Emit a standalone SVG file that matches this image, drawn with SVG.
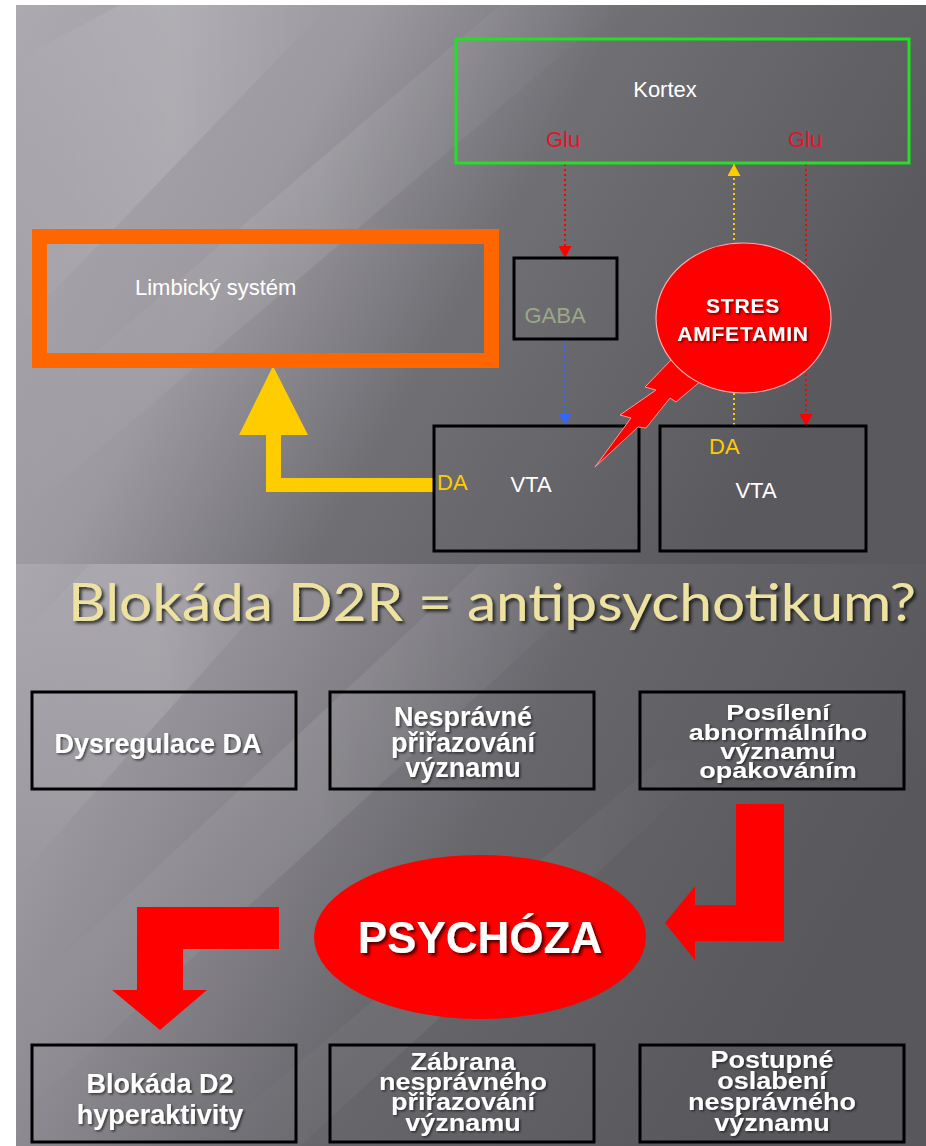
<svg xmlns="http://www.w3.org/2000/svg" width="926" height="1146" viewBox="0 0 926 1146">
<defs>
<linearGradient id="bgTop" x1="0" y1="0" x2="1" y2="0.35">
<stop offset="0" stop-color="#acaab0"/>
<stop offset="0.35" stop-color="#9c9aa0"/>
<stop offset="0.6" stop-color="#706f74"/>
<stop offset="1" stop-color="#5a595e"/>
</linearGradient>
<linearGradient id="bgBot" x1="0" y1="0" x2="1" y2="0.35">
<stop offset="0" stop-color="#aba9af"/>
<stop offset="0.3" stop-color="#8e8c92"/>
<stop offset="0.6" stop-color="#67666b"/>
<stop offset="1" stop-color="#58575c"/>
</linearGradient>
<linearGradient id="streak" x1="0" y1="0" x2="1" y2="0">
<stop offset="0" stop-color="#ffffff" stop-opacity="0"/>
<stop offset="0.5" stop-color="#ffffff" stop-opacity="0.13"/>
<stop offset="1" stop-color="#ffffff" stop-opacity="0"/>
</linearGradient>
<filter id="shadow" x="-10%" y="-30%" width="130%" height="160%">
<feDropShadow dx="1.5" dy="1.5" stdDeviation="1" flood-color="#000" flood-opacity="0.6"/>
</filter>
<filter id="shadowBig" x="-10%" y="-30%" width="130%" height="160%">
<feDropShadow dx="2.5" dy="2.5" stdDeviation="1.5" flood-color="#000" flood-opacity="0.7"/>
</filter>
<marker id="mRed" markerUnits="userSpaceOnUse" markerWidth="14" markerHeight="13" refX="12" refY="6.5" orient="auto">
<path d="M0,0 L12,6.5 L0,13 Z" fill="#ff0000"/>
</marker>
<marker id="mYel" markerUnits="userSpaceOnUse" markerWidth="14" markerHeight="13" refX="12" refY="6.5" orient="auto">
<path d="M0,0 L12,6.5 L0,13 Z" fill="#ffcc00"/>
</marker>
<marker id="mBlue" markerUnits="userSpaceOnUse" markerWidth="14" markerHeight="13" refX="12" refY="6.5" orient="auto">
<path d="M0,0 L12,6.5 L0,13 Z" fill="#3366ff"/>
</marker>
<style>
.lbl{font-family:"Liberation Sans",Arial,sans-serif;font-size:22px;}
.white{fill:#ffffff;}
.box{fill:none;stroke:#000;stroke-width:3;}
.bt{font-family:"Liberation Sans",Arial,sans-serif;font-weight:bold;font-size:27px;fill:#ffffff;text-anchor:middle;}
.dot{fill:none;stroke-width:2;stroke-dasharray:2,3;}
</style>
</defs>

<!-- backgrounds -->
<rect x="0" y="0" width="926" height="1146" fill="#ffffff"/>
<rect x="16" y="5" width="910" height="559" fill="url(#bgTop)"/>
<polygon points="16,60 120,5 330,5 16,330" fill="url(#streak)"/>
<polygon points="16,420 500,5 620,5 16,520" fill="url(#streak)" opacity="0.7"/>
<rect x="16" y="564" width="910" height="582" fill="url(#bgBot)"/>
<polygon points="16,640 90,564 300,564 16,880" fill="url(#streak)"/>
<polygon points="16,1000 480,564 620,564 16,1120" fill="url(#streak)" opacity="0.7"/>
<polygon points="200,1146 660,760 720,760 300,1146" fill="url(#streak)" opacity="0.5"/>

<!-- connectors -->
<g id="connectors">
<line class="dot" x1="565" y1="164" x2="565" y2="258" stroke="#ff0000" marker-end="url(#mRed)"/>
<line class="dot" x1="565" y1="340" x2="565" y2="425" stroke="#3366ff" marker-end="url(#mBlue)"/>
<line class="dot" x1="734" y1="425" x2="734" y2="164" stroke="#ffcc00" marker-end="url(#mYel)"/>
<line class="dot" x1="806" y1="164" x2="806" y2="426" stroke="#ff0000" marker-end="url(#mRed)"/>
<path id="da-arrow" d="M433,478 L281,478 L281,435 L308,435 L273,366 L239,435 L266,435 L266,492 L433,492 Z" fill="#ffcc00"/>
<path id="arrow-psychoza-in" d="M736,804 L784,804 L784,941 L695,941 L695,960 L665,923 L695,886 L695,905 L736,905 Z" fill="#ff0000"/>
<path id="arrow-psychoza-out" d="M279,907 L279,949 L183,949 L183,990 L207,990 L160,1030 L112,990 L137,990 L137,907 Z" fill="#ff0000"/>
</g>

<!-- top slide nodes -->
<g id="kortex">
<rect x="456" y="39" width="453" height="124" fill="none" stroke="#22e022" stroke-width="3"/>
<text class="lbl white" x="665" y="97" text-anchor="middle">Kortex</text>
<text class="lbl" x="563" y="147" text-anchor="middle" fill="#e8102a">Glu</text>
<text class="lbl" x="805" y="147" text-anchor="middle" fill="#e8102a">Glu</text>
</g>
<g id="limbicky">
<rect x="39.5" y="236.5" width="452" height="124" fill="none" stroke="#ff6600" stroke-width="15"/>
<text class="lbl white" x="135" y="295">Limbický systém</text>
</g>
<g id="gaba">
<rect class="box" x="514" y="258" width="103" height="81"/>
<text class="lbl" x="555" y="323" text-anchor="middle" fill="#9aa888">GABA</text>
</g>
<g id="vta-left">
<rect class="box" x="434" y="426" width="205" height="125"/>
<text class="lbl" x="437" y="490" fill="#ffcc00">DA</text>
<text class="lbl white" x="531" y="492" text-anchor="middle">VTA</text>
</g>
<g id="vta-right">
<rect class="box" x="660" y="426" width="206" height="125"/>
<text class="lbl" x="709" y="454" fill="#ffcc00">DA</text>
<text class="lbl white" x="756" y="498" text-anchor="middle">VTA</text>
</g>
<g id="stres">
<path d="M672,359 L645,387 L656,390 L620,415 L631,418 L595,467 L638,427 L646,428 L670,398 L676,402 L702,380 Z" fill="#ff0000" stroke="#ff9a9a" stroke-width="1"/>
<ellipse cx="743.5" cy="318" rx="87.5" ry="75" fill="#ff0000" stroke="#ffaaaa" stroke-width="1.2"/>
<text x="743" y="313" text-anchor="middle" font-family="Liberation Sans, Arial, sans-serif" font-weight="bold" font-size="21" letter-spacing="0.8" fill="#ffffff" filter="url(#shadow)">STRES</text>
<text x="743" y="341" text-anchor="middle" font-family="Liberation Sans, Arial, sans-serif" font-weight="bold" font-size="21" letter-spacing="0.8" fill="#ffffff" filter="url(#shadow)">AMFETAMIN</text>
</g>

<!-- bottom slide -->
<g id="title">
<text x="68" y="621" font-family="Lato, 'Open Sans', sans-serif" font-size="53" fill="#eee2a0" textLength="848" lengthAdjust="spacingAndGlyphs" filter="url(#shadowBig)">Blokáda D2R = antipsychotikum?</text>
</g>
<g id="box-dysregulace">
<rect class="box" x="32" y="692" width="264" height="97"/>
<text class="bt" x="158" y="753" filter="url(#shadow)">Dysregulace DA</text>
</g>
<g id="box-nespravne">
<rect class="box" x="330" y="692" width="264" height="97"/>
<text class="bt" x="463" y="726" filter="url(#shadow)">Nesprávné</text>
<text class="bt" x="463" y="752" filter="url(#shadow)">přiřazování</text>
<text class="bt" x="463" y="777" filter="url(#shadow)">významu</text>
</g>
<g id="box-posileni">
<rect class="box" x="640" y="692" width="264" height="97"/>
<text class="bt" transform="translate(778,720) scale(1,0.84)" filter="url(#shadow)">Posílení</text>
<text class="bt" transform="translate(778,740) scale(1,0.84)" filter="url(#shadow)">abnormálního</text>
<text class="bt" transform="translate(778,759) scale(1,0.84)" filter="url(#shadow)">významu</text>
<text class="bt" transform="translate(778,778) scale(1,0.84)" filter="url(#shadow)">opakováním</text>
</g>
<g id="psychoza">
<ellipse cx="480" cy="937" rx="166" ry="82" fill="#ff0000"/>
<text x="480" y="953" text-anchor="middle" font-family="Liberation Sans, Arial, sans-serif" font-weight="bold" font-size="44" fill="#ffffff" filter="url(#shadowBig)">PSYCHÓZA</text>
</g>
<g id="box-blokada">
<rect class="box" x="32" y="1045" width="264" height="97"/>
<text class="bt" x="160" y="1093" filter="url(#shadow)">Blokáda D2</text>
<text class="bt" x="160" y="1124" filter="url(#shadow)">hyperaktivity</text>
</g>
<g id="box-zabrana">
<rect class="box" x="330" y="1045" width="264" height="97"/>
<text class="bt" transform="translate(463,1070) scale(1,0.86)" filter="url(#shadow)">Zábrana</text>
<text class="bt" transform="translate(463,1090) scale(1,0.86)" filter="url(#shadow)">nesprávného</text>
<text class="bt" transform="translate(463,1110) scale(1,0.86)" filter="url(#shadow)">přiřazování</text>
<text class="bt" transform="translate(463,1131) scale(1,0.86)" filter="url(#shadow)">významu</text>
</g>
<g id="box-postupne">
<rect class="box" x="640" y="1045" width="264" height="97"/>
<text class="bt" transform="translate(772,1068) scale(1,0.88)" filter="url(#shadow)">Postupné</text>
<text class="bt" transform="translate(772,1089) scale(1,0.88)" filter="url(#shadow)">oslabení</text>
<text class="bt" transform="translate(772,1110) scale(1,0.88)" filter="url(#shadow)">nesprávného</text>
<text class="bt" transform="translate(772,1131) scale(1,0.88)" filter="url(#shadow)">významu</text>
</g>
</svg>
